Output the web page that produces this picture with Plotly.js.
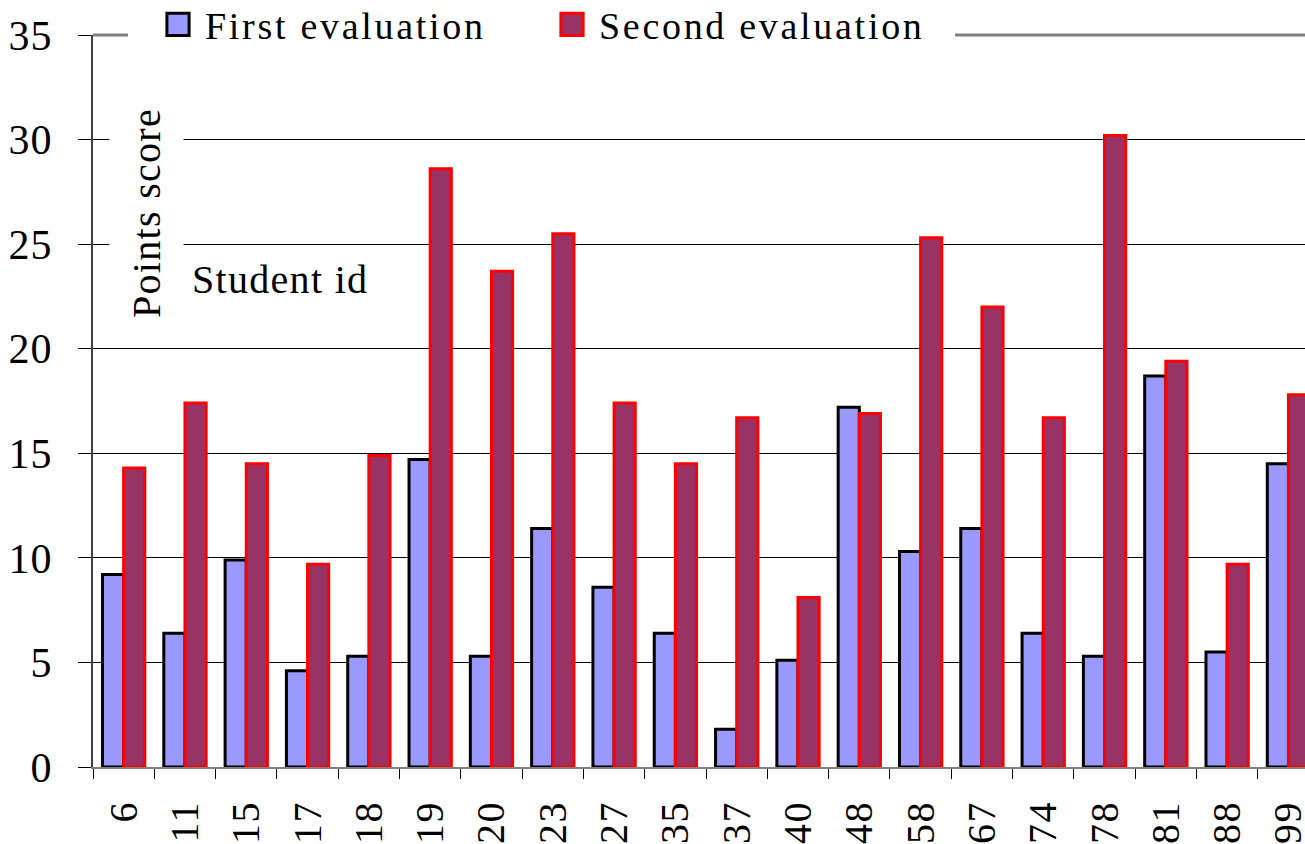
<!DOCTYPE html>
<html><head><meta charset="utf-8">
<script src="https://cdn.plot.ly/plotly-3.0.1.min.js"></script>
<style>
html,body{margin:0;padding:0;background:#fff;}
#chart{width:1305px;height:844px;}
text{letter-spacing:1px;}
.xtick text{letter-spacing:1.5px;}
text.legendtext{letter-spacing:2.7px;}
text.annotation-text{letter-spacing:1.3px;}
</style></head><body><div id="chart"></div>
<script>
const studentIds = ['6','11','15','17','18','19','20','23','27','35','37','40','48','58','67','74','78','81','88','99'];
const firstEval = [9.2,6.4,9.9,4.6,5.3,14.7,5.3,11.4,8.6,6.4,1.8,5.1,17.2,10.3,11.4,6.4,5.3,18.7,5.5,14.5];
const secondEval = [14.3,17.4,14.5,9.7,14.9,28.6,23.7,25.5,17.4,14.5,16.7,8.1,16.9,25.3,22.0,16.7,30.2,19.4,9.7,17.8];
const seriesNames = ['First evaluation','Second evaluation'];
const yTicks = [0,5,10,15,20,25,30,35];

const FONT = 'Liberation Serif';
const data = [
  {type:'bar', name:seriesNames[0], x:studentIds, y:firstEval,
   marker:{color:'#9999FF', line:{color:'#000000', width:3}}},
  {type:'bar', name:seriesNames[1], x:studentIds, y:secondEval,
   marker:{color:'#993366', line:{color:'#FF0000', width:3}}}
];
const PW = 1212, PH = 732;
const layout = {
  width:1305, height:844,
  margin:{l:93, r:0, t:35, b:77, pad:0, autoexpand:false},
  paper_bgcolor:'#fff', plot_bgcolor:'#fff',
  font:{family:FONT, color:'#000', size:40},
  barmode:'group', bargap:0.31, bargroupgap:0,
  showlegend:true,
  legend:{orientation:'h', x:(151-93)/PW, xanchor:'left', y:1.0475, yanchor:'top',
          bgcolor:'rgba(0,0,0,0)', font:{family:FONT, size:38, color:'#000'},
          itemwidth:44, entrywidth:335, entrywidthmode:'pixels', traceorder:'normal'},
  xaxis:{type:'category', range:[-0.5,19.27], tickangle:-90, ticks:'outside', ticklen:10,
         tickcolor:'#000', tickwidth:1, tickson:'boundaries', showline:true, linecolor:'#808080',
         linewidth:2, showgrid:false, tickfont:{family:FONT, size:40, color:'#000'},
         ticklabelstandoff:16, fixedrange:true, automargin:false},
  yaxis:{range:[0,35], tickvals:yTicks, ticktext:yTicks.map(String), ticks:'outside', ticklen:13,
         tickcolor:'#000', tickwidth:1, showline:true, linecolor:'#404040', linewidth:2,
         showgrid:true, gridcolor:'#000', gridwidth:1, zeroline:false,
         tickfont:{family:FONT, size:42, color:'#000'}, ticklabelstandoff:17, fixedrange:true,
         automargin:false},
  yaxis2:{overlaying:'y', side:'left', range:[0,35], tickvals:yTicks, ticks:'inside', ticklen:15,
          tickcolor:'#000', tickwidth:1, showticklabels:false, showgrid:false, showline:false,
          zeroline:false, fixedrange:true},
  shapes:[
    {type:'line', xref:'paper', yref:'paper', x0:0, x1:1, y0:1, y1:1,
     line:{color:'#808080', width:3}, layer:'above'},
    {type:'rect', xref:'paper', yref:'paper', x0:(128-93)/PW, x1:(955-93)/PW,
     y0:1-4/PH, y1:1+4/PH, fillcolor:'#fff', line:{width:0}, layer:'above'}
  ],
  annotations:[
    {xref:'paper', yref:'paper', x:(146-93)/PW, y:(767-213)/PH, text:'Points score',
     textangle:-90, showarrow:false, font:{family:FONT, size:40, color:'#000'},
     bgcolor:'#fff', borderpad:14, xanchor:'center', yanchor:'middle'},
    {xref:'paper', yref:'paper', x:(280-93)/PW, y:(767-279)/PH, text:'Student id',
     showarrow:false, font:{family:FONT, size:40, color:'#000'},
     bgcolor:'#fff', borderpad:11, xanchor:'center', yanchor:'middle'}
  ]
};
function fixLegend(gd){
  gd.querySelectorAll('.legend .legendpoints path').forEach(function(p){
    var t = p.getAttribute('transform') || '';
    if(t.indexOf('scale') < 0){
      p.setAttribute('transform', t + ' scale(1.85)');
    }
    if(p.style.vectorEffect !== 'non-scaling-stroke') p.style.vectorEffect = 'non-scaling-stroke';
  });
  var lg = gd.querySelector('g.legend');
  if(lg){
    var t = lg.getAttribute('transform') || '';
    var m = t.match(/translate\(\s*([-\d.e]+)[ ,]+([-\d.e]+)\s*\)/);
    if(m && parseFloat(m[2]) > -3){
      lg.setAttribute('transform', 'translate(' + m[1] + ',' + (parseFloat(m[2]) - 7) + ')');
    }
  }
}
Plotly.newPlot('chart', data, layout, {staticPlot:true, displayModeBar:false}).then(function(gd){
  fixLegend(gd);
  var obs = new MutationObserver(function(){ fixLegend(gd); });
  obs.observe(gd, {attributes:true, subtree:true, childList:true, attributeFilter:['transform','d']});
  gd.on('plotly_afterplot', function(){ fixLegend(gd); });
});
</script></body></html>
